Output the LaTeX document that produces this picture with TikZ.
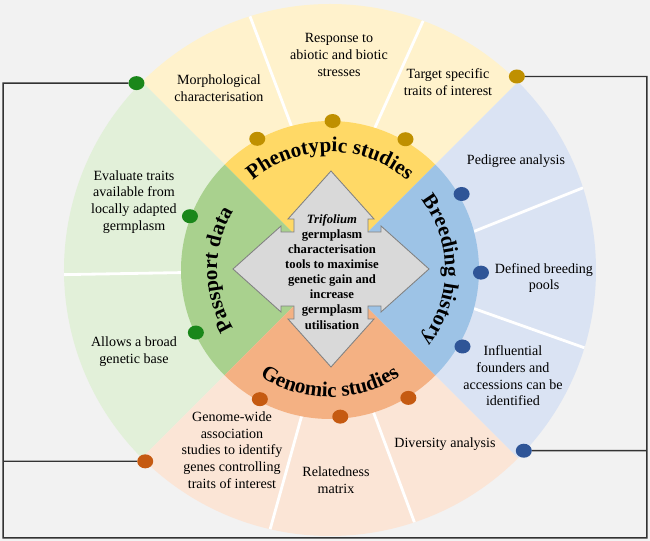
\documentclass[tikz,border=0pt]{standalone}
\usepackage{fontspec}
\setmainfont{Liberation Serif}
\usepackage{tikz}
\usetikzlibrary{decorations.text,shapes.geometric}

\definecolor{bgGrey}{HTML}{F2F2F2}
\definecolor{phenoDark}{HTML}{FFD966}
\definecolor{phenoPale}{HTML}{FFF2CC}
\definecolor{passDark}{HTML}{A9D18E}
\definecolor{passPale}{HTML}{E2F0D9}
\definecolor{breedDark}{HTML}{9DC3E6}
\definecolor{breedPale}{HTML}{DAE3F3}
\definecolor{genoDark}{HTML}{F4B183}
\definecolor{genoPale}{HTML}{FBE5D6}
\definecolor{phenoDot}{HTML}{BF9000}
\definecolor{passDot}{HTML}{1A871A}
\definecolor{breedDot}{HTML}{2F5597}
\definecolor{genoDot}{HTML}{C55A11}

\begin{document}
\begin{tikzpicture}[
        scale=0.025,
        lbl/.style={align=center, font=\fontsize{10}{11.9}\selectfont},
        core/.style={align=center, font=\fontsize{9}{10.7}\selectfont\bfseries},
        dot/.style={ellipse, fill=#1, minimum width=0.4cm, minimum height=0.35cm, inner sep=0pt},
        divider/.style={white, line width=2pt},
        link/.style={draw=black!80, line width=1pt},
        ringtext/.style={decorate, decoration={text along path, text align=center,
                         text={|\fontsize{15}{18}\selectfont\bfseries|#1}}},
    ]
        % canvas
        \fill[bgGrey] (-330,-271) rectangle (320,270);
        \useasboundingbox (-330,-271) rectangle (320,270);

        % outer ring
        \fill[phenoPale] (0,0) -- (45:266) arc[start angle=45, end angle=135, radius=266] -- cycle;
        \fill[passPale]  (0,0) -- (135:266) arc[start angle=135, end angle=225, radius=266] -- cycle;
        \fill[genoPale]  (0,0) -- (225:266) arc[start angle=225, end angle=315, radius=266] -- cycle;
        \fill[breedPale] (0,0) -- (-45:266) arc[start angle=-45, end angle=45, radius=266] -- cycle;

        \draw[divider] (105:149) -- (107.5:266);
        \draw[divider] (72.5:149) -- (69.5:266);
        \draw[divider] (15:149) -- (18:266);
        \draw[divider] (-15:149) -- (-17:266);
        \draw[divider] (-101:149) -- (-103:266);
        \draw[divider] (-73:149) -- (-71.5:266);
        \draw[divider] (181:149) -- (181:266);

        % inner disc
        \fill[phenoDark] (0,0) -- (45:149) arc[start angle=45, end angle=135, radius=149] -- cycle;
        \fill[passDark]  (0,0) -- (135:149) arc[start angle=135, end angle=225, radius=149] -- cycle;
        \fill[genoDark]  (0,0) -- (225:149) arc[start angle=225, end angle=315, radius=149] -- cycle;
        \fill[breedDark] (0,0) -- (-45:149) arc[start angle=-45, end angle=45, radius=149] -- cycle;

        \path[ringtext=Phenotypic studies] (135:118) arc[start angle=135, end angle=45, radius=118];
        \path[ringtext=Breeding history] (62:115) arc[start angle=62, end angle=-62, radius=115];
        \path[ringtext=Genomic studies] (205:127) arc[start angle=205, end angle=335, radius=127];
        \path[ringtext=Passport data] (240:113) arc[start angle=240, end angle=120, radius=113];

        % four-way arrow
        \filldraw[fill=black!15, draw=black!50, line width=0.6pt, shift={(1,1)}]
            (0,98) -- (43,50) -- (37,50) -- (37,37) -- (50,37) -- (50,43) -- (98,0)
            -- (50,-43) -- (50,-37) -- (37,-37) -- (37,-50) -- (43,-50) -- (0,-98)
            -- (-43,-50) -- (-37,-50) -- (-37,-37) -- (-50,-37) -- (-50,-43) -- (-98,0)
            -- (-50,43) -- (-50,37) -- (-37,37) -- (-37,50) -- (-43,50) -- cycle;
        \node[core] (goal) at (2,-2) {\textit{Trifolium}\\germplasm\\characterisation\\tools to maximise\\genetic gain and\\increase\\germplasm\\utilisation};

        % outer labels
        \node[lbl] (morph)  at (-111,182) {Morphological\\characterisation};
        \node[lbl] (stress) at (9,215)    {Response to\\abiotic and biotic\\stresses};
        \node[lbl] (target) at (118,188)  {Target specific\\traits of interest};
        \node[lbl] (pedig)  at (186,109)  {Pedigree analysis};
        \node[lbl] (pools)  at (214,-8)   {Defined breeding\\pools};
        \node[lbl] (found)  at (183,-106) {Influential\\founders and\\accessions can be\\identified};
        \node[lbl] (divers) at (115,-174) {Diversity analysis};
        \node[lbl] (relat)  at (6,-210)   {Relatedness\\matrix};
        \node[lbl] (gwas)   at (-98,-180) {Genome-wide\\association\\studies to identify\\genes controlling\\traits of interest};
        \node[lbl] (broad)  at (-196,-82) {Allows a broad\\genetic base};
        \node[lbl] (local)  at (-196,68)  {Evaluate traits\\available from\\locally adapted\\germplasm};

        % dots
        \node[dot=phenoDot] (ph1) at (119:150) {};
        \node[dot=phenoDot] (ph2) at (89:149) {};
        \node[dot=phenoDot] (ph3) at (60:151) {};
        \node[dot=breedDot] (br1) at (30:152) {};
        \node[dot=breedDot] (br2) at (-1:151) {};
        \node[dot=breedDot] (br3) at (-30:153) {};
        \node[dot=genoDot]  (gn1) at (-118.5:147) {};
        \node[dot=genoDot]  (gn2) at (-86:147) {};
        \node[dot=genoDot]  (gn3) at (-58.5:150) {};
        \node[dot=passDot]  (pp1) at (159:150) {};
        \node[dot=passDot]  (pp2) at (205:148) {};

        \node[dot=passDot]  (ppEnd) at (136:269) {};
        \node[dot=phenoDot] (phEnd) at (46:269) {};
        \node[dot=breedDot] (brEnd) at (-43:265) {};
        \node[dot=genoDot]  (gnEnd) at (-134:266) {};

        % frame links
        \coordinate (frameBL) at (-327,-268);
        \coordinate (frameBR) at (317,-268);
        \draw[link] (ppEnd) -- (ppEnd -| frameBL) -- (frameBL) -- (frameBR) -- (phEnd -| frameBR) -- (phEnd);
        \draw[link] (gnEnd) -- (gnEnd -| frameBL);
        \draw[link] (brEnd) -- (brEnd -| frameBR);
    \end{tikzpicture}
\end{document}
